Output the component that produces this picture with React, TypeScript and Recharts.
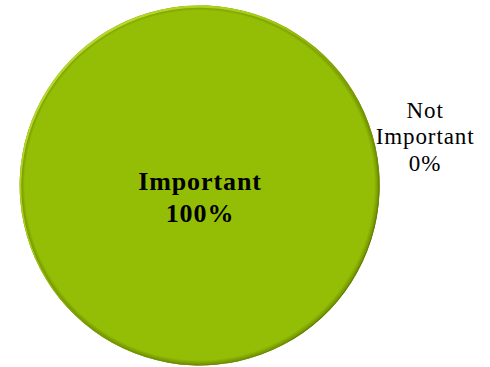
import { PieChart, Pie, Cell } from 'recharts'

const categories = ['Important', 'Not Important']
const shares = [100, 0]

const data = categories.map((name, i) => ({ name, value: shares[i] }))

const FONT = 'Liberation Serif'
const RADIAN = Math.PI / 180

function renderLabel(props: any) {
  const { cx, cy, outerRadius, midAngle, name, value, index } = props
  if (index === 0) {
    const style = { fontFamily: FONT, fontWeight: 'bold', fontSize: 26, letterSpacing: 0.9 }
    return (
      <g>
        <text x={cx} y={cy + 3} textAnchor="middle" fill="#000" style={style}>
          {name}
        </text>
        <text x={cx} y={cy + 35} textAnchor="middle" fill="#000" style={style}>
          {`${value}%`}
        </text>
      </g>
    )
  }
  const r = outerRadius + 51
  const x = cx + r * Math.cos(-midAngle * RADIAN)
  const y = cy + r * Math.sin(-midAngle * RADIAN)
  const lines = [...String(name).split(' '), `${value}%`]
  return (
    <g>
      {lines.map((line, i) => (
        <text key={i} x={x} y={y - 17 + i * 26.3} textAnchor="middle" fill="#000" style={{ fontFamily: FONT, fontSize: 23, letterSpacing: 0.9 }}>
          {line}
        </text>
      ))}
    </g>
  )
}

export default function App() {
  return (
    <div style={{ position: 'fixed', left: 0, top: 0, width: 490, height: 367, background: '#fff' }}>
      <PieChart width={490} height={367} margin={{ top: 0, right: 0, bottom: 0, left: 0 }}>
        <defs>
          <radialGradient id="pieFill" cx="0.5" cy="0.5" r="0.5" fx="0.485" fy="0.485">
            <stop offset="0%" stopColor="#94be06" />
            <stop offset="97%" stopColor="#94be06" />
            <stop offset="100%" stopColor="#6a8a00" />
          </radialGradient>
          <linearGradient id="pieRim" x1="0" y1="0" x2="1" y2="1">
            <stop offset="0%" stopColor="#c4e23a" />
            <stop offset="35%" stopColor="#a6cc14" />
            <stop offset="55%" stopColor="#809f00" />
            <stop offset="100%" stopColor="#4f6800" />
          </linearGradient>
        </defs>
        <Pie
          data={data}
          dataKey="value"
          nameKey="name"
          cx={200}
          cy={187}
          outerRadius={180}
          startAngle={13}
          endAngle={-347}
          stroke="none"
          label={renderLabel}
          labelLine={false}
          isAnimationActive={false}
        >
          {data.map((d) => (
            <Cell key={d.name} fill="url(#pieFill)" />
          ))}
        </Pie>
        <Pie
          data={data}
          dataKey="value"
          nameKey="name"
          cx={200}
          cy={187}
          innerRadius={178.5}
          outerRadius={180}
          startAngle={13}
          endAngle={-347}
          stroke="none"
          label={false}
          labelLine={false}
          isAnimationActive={false}
        >
          {data.map((d) => (
            <Cell key={d.name} fill="url(#pieRim)" />
          ))}
        </Pie>
      </PieChart>
    </div>
  )
}
